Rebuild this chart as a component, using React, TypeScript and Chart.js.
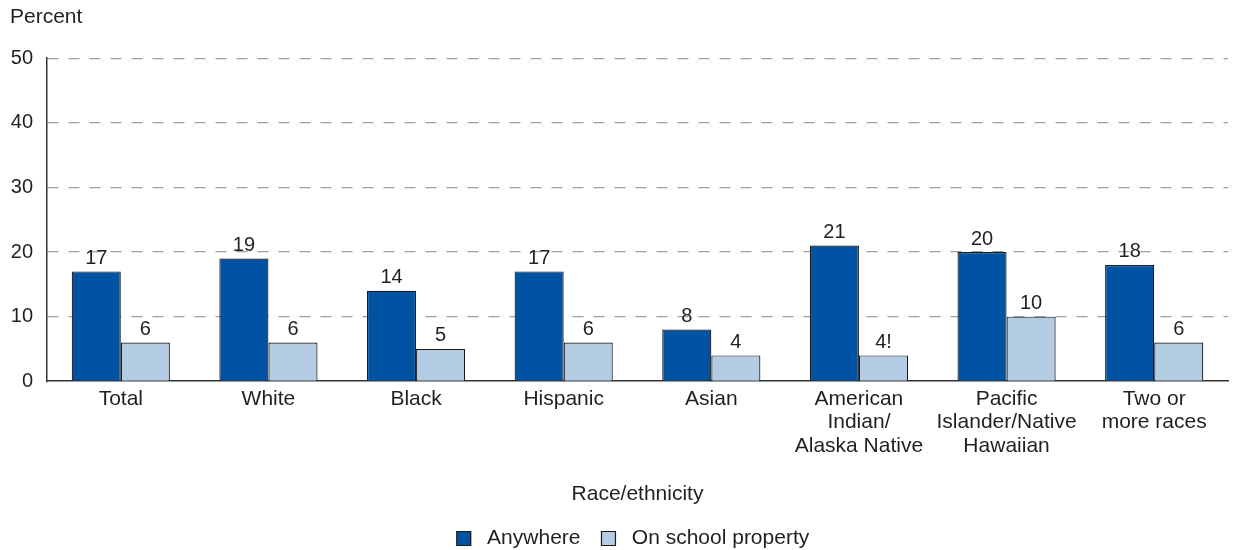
import React, { useEffect, useRef } from "react";
import { Chart, registerables } from "chart.js";

Chart.register(...registerables);

const categories: string[][] = [
  ["Total"],
  ["White"],
  ["Black"],
  ["Hispanic"],
  ["Asian"],
  ["American", "Indian/", "Alaska Native"],
  ["Pacific", "Islander/Native", "Hawaiian"],
  ["Two or", "more races"],
];
const anywhere = [17, 19, 14, 17, 8, 21, 20, 18];
const schoolProperty = [6, 6, 5, 6, 4, 4, 10, 6];
const anywhereLabels = ["17", "19", "14", "17", "8", "21", "20", "18"];
const schoolLabels = ["6", "6", "5", "6", "4", "4!", "10", "6"];
const yTicks = [0, 10, 20, 30, 40, 50];

const FONT = "'Liberation Sans', Arial, Helvetica, sans-serif";
const FS = 21;
const NUM_FS = 20;
const TEXT = "#231f20";

const valueLabelPlugin = {
  id: "valueLabels",
  afterLayout(chart: any) {
    if (chart.legend) {
      chart.legend.left += 14;
      chart.legend.right += 14;
    }
  },
  afterDatasetsDraw(chart: any) {
    const ctx = chart.ctx;
    const sets = [anywhereLabels, schoolLabels];
    ctx.save();
    ctx.font = `${NUM_FS}px ${FONT}`;
    ctx.fillStyle = TEXT;
    ctx.textAlign = "center";
    ctx.textBaseline = "bottom";
    chart.data.datasets.forEach((_: any, di: number) => {
      const meta = chart.getDatasetMeta(di);
      meta.data.forEach((bar: any, i: number) => {
        ctx.fillText(sets[di][i], bar.x, bar.y - 3);
      });
    });
    ctx.restore();
  },
};

export default function App() {
  const ref = useRef<HTMLCanvasElement>(null);
  useEffect(() => {
    document.body.style.margin = "0";
    const chart = new Chart(ref.current!, {
      type: "bar",
      data: {
        labels: categories,
        datasets: [
          {
            label: "Anywhere",
            data: anywhere,
            backgroundColor: "#0052a2",
            borderColor: "#1a1a1a",
            borderWidth: 1.2,
            barPercentage: 1,
            categoryPercentage: 0.665,
          },
          {
            label: "On school property",
            data: schoolProperty,
            backgroundColor: "#b4cbe4",
            borderColor: "#1a1a1a",
            borderWidth: 1.2,
            barPercentage: 1,
            categoryPercentage: 0.665,
          },
        ],
      },
      options: {
        responsive: false,
        animation: false,
        layout: { padding: { left: 10, right: 5, top: 0, bottom: -9 } },
        plugins: {
          title: {
            display: true,
            text: "Percent",
            align: "start",
            color: TEXT,
            font: { family: FONT, size: FS, weight: "normal" },
            padding: { top: 5, bottom: 28 },
          },
          legend: {
            position: "bottom",
            labels: {
              color: TEXT,
              font: { family: FONT, size: FS },
              boxWidth: 14,
              boxHeight: 14,
              padding: 21,
              generateLabels: (chart: any) => {
                const items = Chart.defaults.plugins.legend.labels.generateLabels(chart);
                return items.map((it: any) => ({ ...it, text: " " + it.text }));
              },
            },
          },
          tooltip: { enabled: false },
        },
        scales: {
          x: {
            grid: { display: false, tickLength: 0 },
            border: { color: "#333", width: 1.5 },
            ticks: {
              color: TEXT,
              font: { family: FONT, size: FS, lineHeight: 1.12 },
              padding: 6,
              maxRotation: 0,
              autoSkip: false,
            },
            title: {
              display: true,
              text: "Race/ethnicity",
              color: TEXT,
              font: { family: FONT, size: FS },
              padding: { top: 18, bottom: 0 },
            },
          },
          y: {
            min: 0,
            max: 50,
            afterBuildTicks: (axis: any) => {
              axis.ticks = yTicks.map((v) => ({ value: v }));
            },
            afterFit: (axis: any) => {
              axis.width = 37;
            },
            border: { color: "#333", width: 1.5, dash: [11, 10] },
            grid: {
              color: (c: any) => (c.tick && c.tick.value === 0 ? "rgba(0,0,0,0)" : "#a0a0a0"),
              lineWidth: 1.2,
              drawTicks: false,
            },
            ticks: {
              color: TEXT,
              font: { family: FONT, size: NUM_FS },
              padding: 14,
            },
          },
        },
      },
      plugins: [valueLabelPlugin],
    } as any);
    return () => chart.destroy();
  }, []);
  return (
    <div style={{ position: "absolute", left: 0, top: 0, width: 1233, height: 550 }}>
      <canvas ref={ref} width={1233} height={550} />
    </div>
  );
}
